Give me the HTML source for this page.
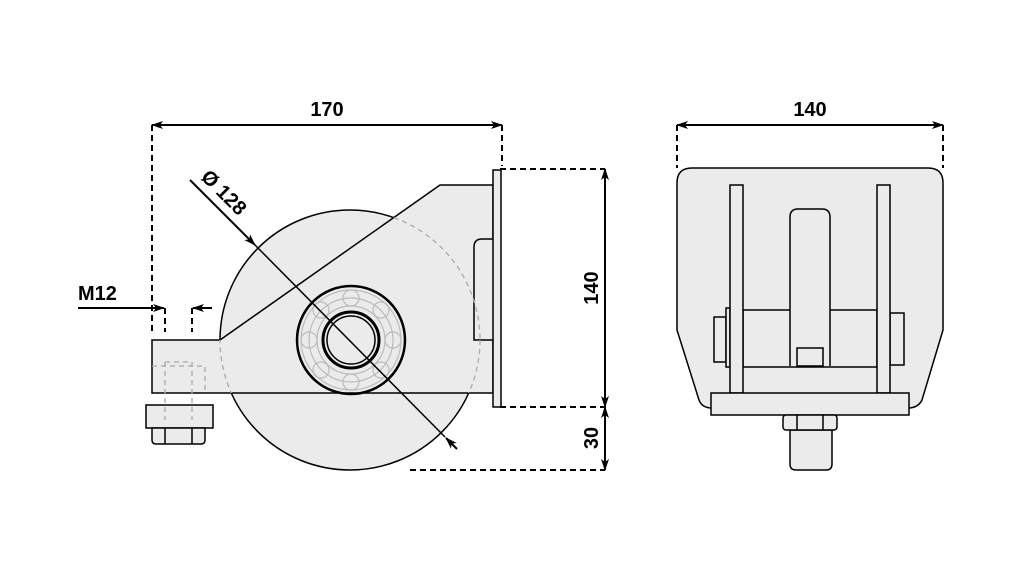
<!DOCTYPE html>
<html><head><style>html,body{margin:0;padding:0;background:#fff}svg{display:block}</style></head>
<body>
<svg width="1022" height="568" viewBox="0 0 1022 568" xmlns="http://www.w3.org/2000/svg" font-family="Liberation Sans, sans-serif" font-weight="bold">
<defs>
<marker id="a" markerWidth="12" markerHeight="8" refX="11" refY="4" orient="auto-start-reverse" markerUnits="userSpaceOnUse"><path d="M0,0 L12,4 L0,8 L3,4 Z" fill="#000"/></marker>
<clipPath id="br"><path d="M152,340 L220,340 L440,185 L493,185 L493,393 L152,393 Z"/></clipPath>
</defs>
<g stroke="#000" stroke-width="2" fill="none">
<line x1="152" y1="125" x2="502" y2="125" marker-start="url(#a)" marker-end="url(#a)"/>
<line x1="152" y1="125" x2="152" y2="332" stroke-dasharray="6,4"/>
<line x1="502" y1="125" x2="502" y2="166" stroke-dasharray="6,4"/>
<line x1="78" y1="308" x2="164" y2="308" marker-end="url(#a)"/>
<line x1="212" y1="308" x2="193" y2="308" marker-end="url(#a)"/>
<line x1="165" y1="308" x2="165" y2="332" stroke-dasharray="6,4"/>
<line x1="192" y1="308" x2="192" y2="332" stroke-dasharray="6,4"/>
<line x1="500" y1="169" x2="605" y2="169" stroke-dasharray="6,4"/>
<line x1="500" y1="407" x2="605" y2="407" stroke-dasharray="6,4"/>
<line x1="410" y1="470" x2="605" y2="470" stroke-dasharray="6,4"/>
<line x1="605" y1="169" x2="605" y2="407" marker-start="url(#a)" marker-end="url(#a)"/>
<line x1="605" y1="407" x2="605" y2="470" marker-start="url(#a)" marker-end="url(#a)"/>
<line x1="677" y1="125" x2="943" y2="125" marker-start="url(#a)" marker-end="url(#a)"/>
<line x1="677" y1="125" x2="677" y2="168" stroke-dasharray="6,4"/>
<line x1="943" y1="125" x2="943" y2="168" stroke-dasharray="6,4"/>
</g>
<g font-size="20" fill="#000">
<text x="327" y="116" text-anchor="middle">170</text>
<text x="810" y="116" text-anchor="middle">140</text>
<text x="78" y="300">M12</text>
<text transform="translate(598,288) rotate(-90)" text-anchor="middle">140</text>
<text transform="translate(598,438) rotate(-90)" text-anchor="middle">30</text>
<text transform="translate(200,178) rotate(45)">Ø 128</text>
</g>
<g stroke="#000" stroke-width="1.5" fill="#ebebeb">
<circle cx="350" cy="340" r="130"/>
<path d="M152,340 L220,340 L440,185 L493,185 L493,393 L152,393 Z"/>
<path d="M493,239 L482,239 Q474,239 474,247 L474,340 L493,340" fill="#ebebeb"/>
<rect x="493" y="170" width="8" height="237"/>
<rect x="146" y="405" width="67" height="23"/>
<path d="M152,428 L205,428 L205,440 Q205,444 201,444 L156,444 Q152,444 152,440 Z"/>
<line x1="165" y1="428" x2="165" y2="444"/><line x1="192" y1="428" x2="192" y2="444"/>
</g>
<g fill="none" stroke="#aaa" stroke-width="1.3" stroke-dasharray="5,4">
<circle cx="350" cy="340" r="130" clip-path="url(#br)"/>
<path d="M152,366 L205,366 L205,393 M165,362 L165,420 M192,362 L192,420 M165,362 L192,362"/>
</g>
<g fill="none" stroke="#bbb" stroke-width="1.2">
<circle cx="351" cy="340" r="42"/><circle cx="351" cy="340" r="34"/><circle cx="351" cy="340" r="50"/>
<circle cx="351" cy="298" r="8"/><circle cx="351" cy="382" r="8"/><circle cx="309" cy="340" r="8"/><circle cx="393" cy="340" r="8"/>
<circle cx="381" cy="310" r="8"/><circle cx="321" cy="310" r="8"/><circle cx="381" cy="370" r="8"/><circle cx="321" cy="370" r="8"/>
</g>
<g fill="none" stroke="#000">
<circle cx="351" cy="340" r="54" stroke-width="2.5"/>
<circle cx="351" cy="340" r="28" stroke-width="3"/>
<circle cx="351" cy="340" r="24" stroke-width="1.5"/>
<line x1="190" y1="180" x2="255" y2="245" stroke-width="2" marker-end="url(#a)"/>
<line x1="255" y1="245" x2="445" y2="437" stroke-width="1.5"/>
<line x1="457" y1="449" x2="446" y2="438" stroke-width="2" marker-end="url(#a)"/>
</g>
<g stroke="#000" stroke-width="1.5" fill="#ebebeb">
<path d="M692,168 L928,168 Q943,168 943,183 L943,330 L922,400 Q918,408 908,408 L712,408 Q702,408 699,400 L677,330 L677,183 Q677,168 692,168 Z"/>
<rect x="743" y="310" width="134" height="57"/>
<path d="M790,366 L790,217 Q790,209 798,209 L822,209 Q830,209 830,217 L830,366"/>
<rect x="797" y="348" width="26" height="18"/>
<rect x="714" y="317" width="12" height="45"/>
<rect x="726" y="308" width="4" height="59"/>
<rect x="890" y="313" width="14" height="52"/>
<rect x="730" y="185" width="13" height="208"/>
<rect x="877" y="185" width="13" height="208"/>
<rect x="711" y="393" width="198" height="22"/>
<path d="M790,430 L832,430 L832,464 Q832,470 826,470 L796,470 Q790,470 790,464 Z"/>
<rect x="783" y="415" width="54" height="15" rx="3"/>
<line x1="797" y1="415" x2="797" y2="430"/><line x1="823" y1="415" x2="823" y2="430"/>
</g>
</svg>
</body></html>
